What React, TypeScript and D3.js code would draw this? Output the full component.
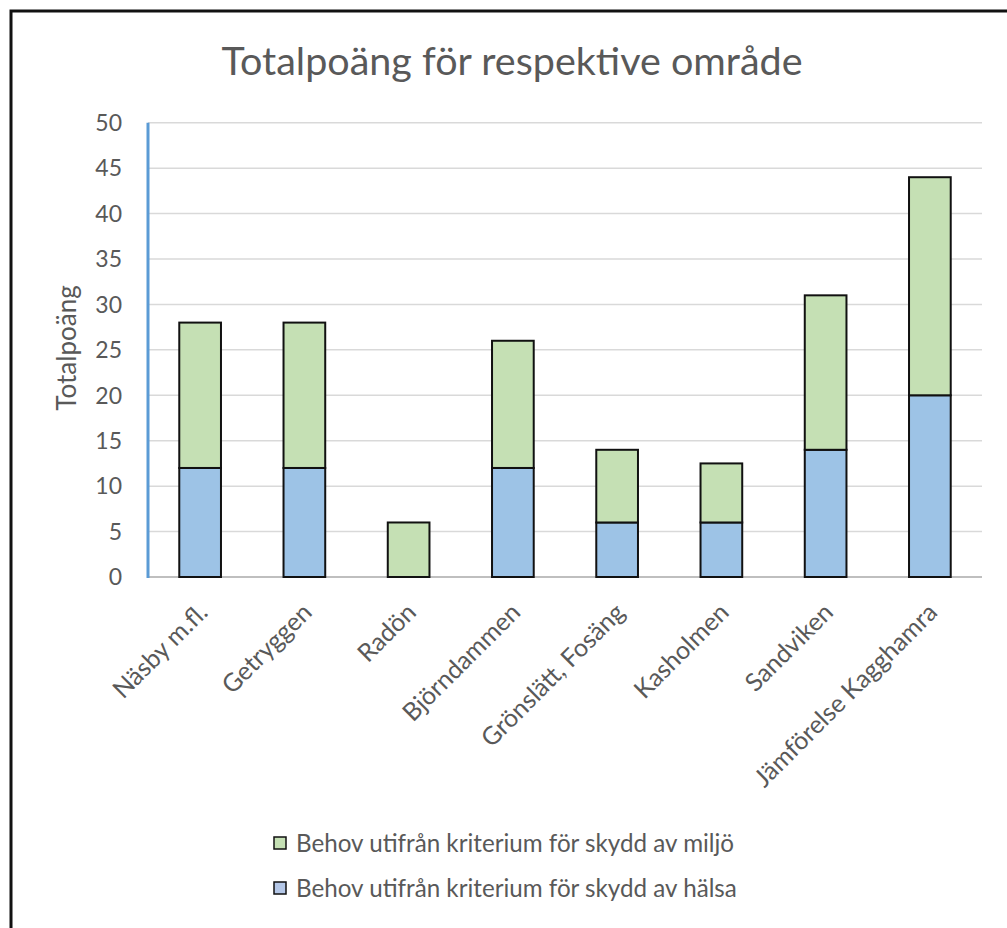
import React from "react";
import * as d3 from "d3";

const categories = [
  "Näsby m.fl.",
  "Getryggen",
  "Radön",
  "Björndammen",
  "Grönslätt, Fosäng",
  "Kasholmen",
  "Sandviken",
  "Jämförelse Kagghamra",
];
const halsa = [12, 12, 0, 12, 6, 6, 14, 20];
const miljo = [16, 16, 6, 14, 8, 6.5, 17, 24];
const yTicks = [0, 5, 10, 15, 20, 25, 30, 35, 40, 45, 50];
const seriesNames = [
  "Behov utifrån kriterium för skydd av miljö",
  "Behov utifrån kriterium för skydd av hälsa",
];

const W = 1007;
const H = 928;
const plotLeft = 148;
const plotRight = 982;
const plotTop = 122.7;
const plotBottom = 577;
const BLUE = "#9dc3e6";
const GREEN = "#c5e0b4";
const TEXT = "#595959";
const FONT = "Lato, 'Open Sans', sans-serif";

export default function App() {
  const x = d3
    .scaleBand<string>()
    .domain(categories)
    .range([plotLeft, plotRight])
    .paddingInner(0.6)
    .paddingOuter(0.3);
  const y = d3.scaleLinear().domain([0, 50]).range([plotBottom, plotTop]);

  const rows = categories.map((c, i) => ({ c, h: halsa[i], m: miljo[i] }));
  const stack = d3.stack<any>().keys(["h", "m"])(rows as any);

  return (
    <svg
      width={W}
      height={H}
      style={{ position: "absolute", left: 0, top: 0, background: "#fff" }}
      fontFamily={FONT}
    >
      <rect x={0} y={0} width={W} height={H} fill="#fff" />
      <rect
        x={11}
        y={11}
        width={W + 20}
        height={H + 20}
        fill="none"
        stroke="#111"
        strokeWidth={3}
      />
      <text x={512} y={75} textAnchor="middle" fontSize={39.5} fill={TEXT}>
        Totalpoäng för respektive område
      </text>

      {yTicks.map((t) => (
        <g key={t}>
          <line
            x1={plotLeft}
            x2={plotRight}
            y1={y(t)}
            y2={y(t)}
            stroke={t === 0 ? "#bfbfbf" : "#d9d9d9"}
            strokeWidth={t === 0 ? 2 : 1.5}
          />
          <text
            x={122}
            y={y(t)}
            dy="0.36em"
            textAnchor="end"
            fontSize={23}
            fill={TEXT}
          >
            {t}
          </text>
        </g>
      ))}
      <line
        x1={plotLeft}
        x2={plotLeft}
        y1={plotTop}
        y2={plotBottom + 1}
        stroke="#5b9bd5"
        strokeWidth={3}
      />

      <text
        transform={`translate(76, 348) rotate(-90)`}
        textAnchor="middle"
        fontSize={26}
        fill={TEXT}
      >
        Totalpoäng
      </text>

      {stack.map((s, si) =>
        s.map((d: any, i: number) => {
          const v = d[1] - d[0];
          if (v <= 0) return null;
          return (
            <rect
              key={`${si}-${i}`}
              x={x(categories[i])!}
              width={x.bandwidth()}
              y={y(d[1])}
              height={y(d[0]) - y(d[1])}
              fill={si === 0 ? BLUE : GREEN}
              stroke="#111"
              strokeWidth={2}
            />
          );
        })
      )}

      {categories.map((c) => {
        const cx = x(c)! + x.bandwidth() / 2;
        return (
          <text
            key={c}
            transform={`translate(${cx + 9}, 614) rotate(-45)`}
            textAnchor="end"
            fontSize={25}
            fill={TEXT}
          >
            {c}
          </text>
        );
      })}

      {seriesNames.map((n, i) => (
        <g key={n} transform={`translate(274, ${843 + i * 45})`}>
          <rect
            x={0}
            y={-6}
            width={12}
            height={12}
            fill={i === 0 ? GREEN : "#b4c7e7"}
            stroke="#111"
            strokeWidth={1.5}
          />
          <text x={22} y={0} dy="0.36em" fontSize={24.2} fill={TEXT}>
            {n}
          </text>
        </g>
      ))}
    </svg>
  );
}
